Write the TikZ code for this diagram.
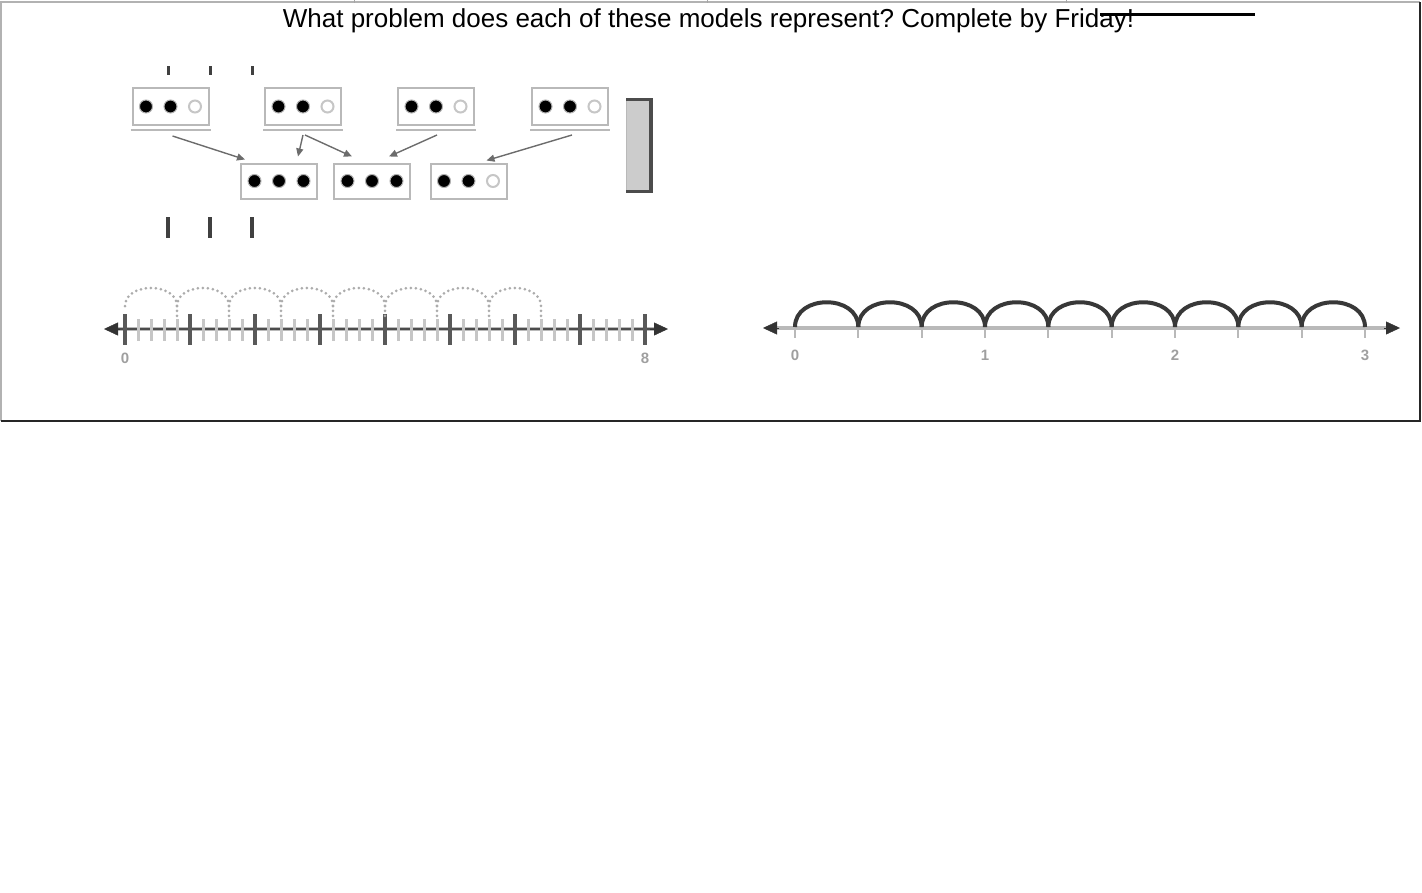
\documentclass[tikz,border=0pt]{standalone}
\usepackage{fontspec}
\setmainfont{Liberation Sans}
\usepackage{xcolor}
\usetikzlibrary{positioning,arrows.meta}
\frenchspacing

\tikzset{
  tray/.style={draw=gray!55, line width=2pt, fill=white, minimum width=76pt, minimum height=37pt, inner sep=0pt},
  lowtray/.style={tray, minimum height=35pt},
  counter/.style={circle, fill=black, draw=gray!60, line width=1pt, minimum size=13pt, inner sep=0pt},
  hole/.style={circle, draw=gray!45, line width=2pt, minimum size=12pt, inner sep=0pt},
  link/.style={draw=gray!85!black, line width=1.4pt, -{Triangle[length=8pt,width=7pt]}},
  numtxt/.style={text=gray!75, font=\fontsize{15}{15}\selectfont\bfseries},
  hop/.style={gray!65, line width=3pt, line cap=round, dash pattern=on 0pt off 5pt},
  jump/.style={black!78, line width=4pt},
  axis/.style={gray!55, line width=4.5pt},
  tip/.style={-{Triangle[length=14pt,width=13pt]}, draw=black!80, fill=black!80}
}

\begin{document}
\begin{tikzpicture}[x=1pt, y=-1pt]
  \useasboundingbox (0,0) rectangle (1422,892);

  % Frame
  \draw[gray!60, line width=1.5pt] (0.75,421) -- (0.75,2) -- (1420,2);
  \draw[black!85, line width=2pt] (1420,2) -- (1420,421) -- (0.75,421);
  \foreach \x in {354,707,1066}
    \draw[gray!70, line width=1pt] (\x,0) -- (\x,3);

  % Title
  \node[anchor=base, font=\fontsize{26}{26}\selectfont] (title) at (708.5,27)
    {What problem does each of these models represent? Complete by Friday!};
  \draw[line width=3pt] (1100,14) -- (1255,14);

  % Define nodes
  \node[tray] (b1) at (170.5,106.5) {};
  \node[tray] (b2) at (303,106.5) {};
  \node[tray] (b3) at (436,106.5) {};
  \node[tray] (b4) at (570,106.5) {};
  \node[lowtray] (b5) at (279,181) {};
  \node[lowtray] (b6) at (372,181) {};
  \node[lowtray] (b7) at (468.5,181) {};

  \foreach \b in {b1,b2,b3,b4}
    \draw[gray!55, line width=2pt] ([shift={(-40,4)}]\b.south) -- ([shift={(40,4)}]\b.south);

  \foreach \b/\n in {b1/2,b2/2,b3/2,b4/2,b5/3,b6/3,b7/2}
    \foreach \k in {1,2,3} {
      \ifnum\k>\n \def\dotstyle{hole}\else \def\dotstyle{counter}\fi
      \node[\dotstyle] (\b-\k) at ([xshift={(\k-2)*24.5pt}]\b.center) {};
    }

  % Connect the nodes
  \draw[link] ([shift={(2,10)}]b1.south) -- ([shift={(-34,-3)}]b5.north);
  \draw[link] ([shift={(0,9)}]b2.south) -- ([shift={(19,-6)}]b5.north);
  \draw[link] ([shift={(2,9)}]b2.south) -- ([shift={(-20,-6)}]b6.north);
  \draw[link] ([shift={(1,9)}]b3.south) -- ([shift={(17,-6)}]b6.north);
  \draw[link] ([shift={(2,9)}]b4.south) -- ([shift={(18,-2)}]b7.north);

  % Tally marks
  \foreach \x in {168,210,252} {
    \draw[black!75, line width=3pt] (\x,66) -- (\x,75);
    \draw[black!75, line width=3.5pt] (\x,217) -- (\x,238);
  }

  % Bracket
  \fill[gray!40] (626,98) rectangle (652,193);
  \draw[gray!55, line width=1.5pt] (626.5,98) -- (626.5,193);
  \draw[black!70, line width=3.5pt] (626,99.5) -- (651,99.5) -- (651,191.5) -- (626,191.5);

  % Number line in fifths
  \draw[axis] (110,329) -- (662,329);
  \draw[black!70, line width=1.2pt] (110,329) -- (662,329);
  \draw[tip] (120,329) -- (104,329);
  \draw[tip] (650,329) -- (668,329);
  \foreach \i in {0,...,40} {
    \pgfmathtruncatemacro\r{mod(\i,5)}
    \ifnum\r=0
      \draw[black!65, line width=3.2pt] (125+13*\i,314) -- (125+13*\i,345);
    \else
      \draw[gray!45, line width=3pt] (125+13*\i,319) -- (125+13*\i,341);
    \fi
  }
  \foreach \j in {0,...,7}
    \draw[hop] (125+52*\j,306) .. controls (125+52*\j,282) and (177+52*\j,282) .. (177+52*\j,306) -- (177+52*\j,316);
  \node[numtxt] (a0) at (125,358) {0};
  \node[numtxt] (a8) at (645,358) {8};

  % Number line in thirds
  \draw[axis] (775,328) -- (1390,328);
  \draw[tip] (779,328) -- (763,328);
  \draw[tip] (1384,328) -- (1400,328);
  \foreach \i in {0,...,9}
    \draw[gray!55, line width=2pt] (795+190*\i/3,326) -- (795+190*\i/3,338);
  \foreach \j in {0,...,8}
    \draw[jump] (795+190*\j/3,327) .. controls (795+190*\j/3,294) and (795+190*\j/3+63.3,294) .. (795+190*\j/3+63.3,327);
  \foreach \n in {0,1,2,3}
    \node[numtxt] (c\n) at (795+190*\n,355) {\n};

\end{tikzpicture}
\end{document}
